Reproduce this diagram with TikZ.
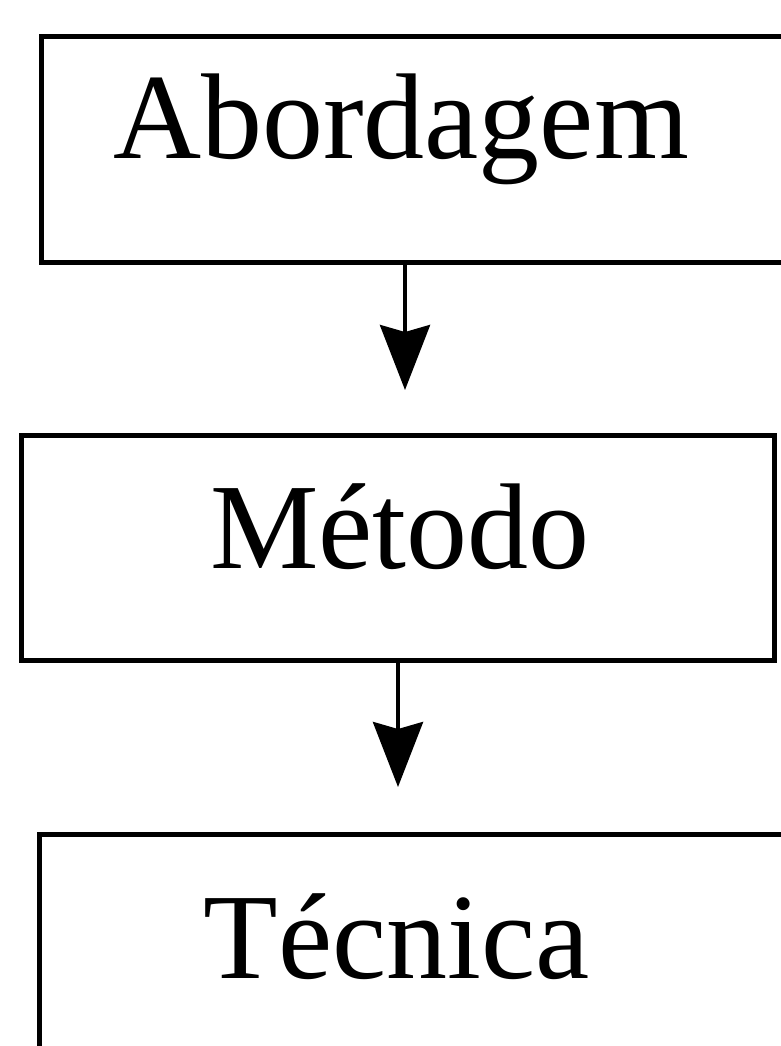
\documentclass[tikz,border=0pt]{standalone}
\usepackage{fontspec}
\setmainfont{Liberation Serif}
\usetikzlibrary{arrows.meta}
\begin{document}
\begin{tikzpicture}[x=1pt,y=-1pt,
  box/.style={draw,line width=5pt,inner sep=0pt},
  lbl/.style={anchor=base,inner sep=0pt,font=\fontsize{122}{140}\selectfont},
  flow/.style={line width=4pt,-{Stealth[length=65pt,width=50pt,inset=7pt]}}]
\useasboundingbox (0,0) rectangle (781,1046);
\clip (0,0) rectangle (781,1046);
\fill[white] (0,0) rectangle (781,1046);
\node[box,minimum width=759pt,minimum height=225pt] (b1) at (420.5,149.5) {};
\node[box,minimum width=753pt,minimum height=225pt] (b2) at (397.5,547.5) {};
\node[box,minimum width=761pt,minimum height=236pt] (b3) at (419.5,952) {};
\node[lbl] (l1) at (401,158) {Abordagem};
\node[lbl] (l2) at (400,568) {Método};
\node[lbl] (l3) at (397,978) {Técnica};
\coordinate (t1) at (405,390);
\coordinate (t2) at (398,787);
\draw[flow] (b1.south -| t1) -- (t1);
\draw[flow] (b2.south -| t2) -- (t2);
\end{tikzpicture}
\end{document}
